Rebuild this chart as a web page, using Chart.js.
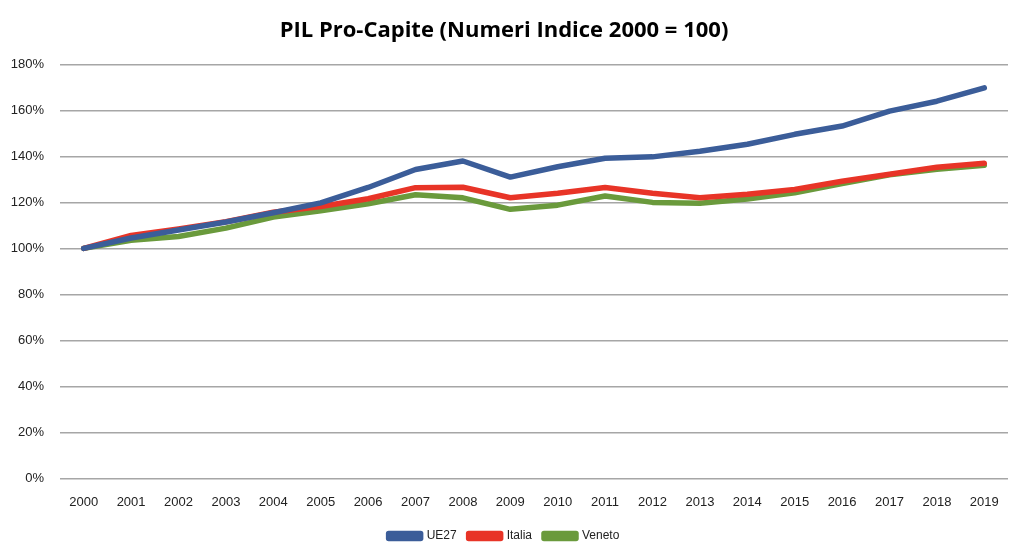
<!DOCTYPE html>
<html>
<head>
<meta charset="utf-8">
<script src="https://cdn.jsdelivr.net/npm/chart.js@4"></script>
<style>
  html, body { margin: 0; padding: 0; background: #fff; }
  #wrap { width: 1024px; height: 552px; }
</style>
</head>
<body>
<div id="wrap"><canvas id="pil" width="1024" height="552"></canvas></div>
<script>
// anni
const anni = ["2000", "2001", "2002", "2003", "2004", "2005", "2006", "2007", "2008", "2009",
              "2010", "2011", "2012", "2013", "2014", "2015", "2016", "2017", "2018", "2019"];

// numeri indice (2000 = 100)
const ue27   = [100, 104.5, 108, 111.5, 115.5, 119.8, 126.5, 134.3, 138, 131,
                135.5, 139.2, 139.8, 142.2, 145.3, 149.6, 153.2, 159.7, 164, 169.8];
const italia = [100, 105.6, 108.5, 111.6, 115.7, 118.2, 121.6, 126.4, 126.6, 122,
                124, 126.5, 124, 122, 123.5, 125.6, 129.2, 132.2, 135.3, 137];
const veneto = [100, 103.5, 105.2, 108.8, 113.6, 116.4, 119.4, 123.3, 122, 117,
                118.8, 122.8, 120, 119.6, 121.5, 124.2, 128.2, 132, 134.4, 136.2];

// tick asse y
const tickY = [0, 20, 40, 60, 80, 100, 120, 140, 160, 180];

const ctx = document.getElementById("pil").getContext("2d");

new Chart(ctx, {
    type: "line",
    data: {
        labels: anni,
        datasets: [
            { label: "UE27", data: ue27, borderColor: "#3b5d99", backgroundColor: "#3b5d99" },
            { label: "Italia", data: italia, borderColor: "#e83427", backgroundColor: "#e83427" },
            { label: "Veneto", data: veneto, borderColor: "#6a9a3c", backgroundColor: "#6a9a3c" },
        ],
    },
    options: {
        responsive: false,
        animation: false,
        devicePixelRatio: 1,
        elements: {
            line: { borderWidth: 5.5, tension: 0, borderCapStyle: "round", borderJoinStyle: "round" },
            point: { radius: 0 },
        },
        layout: { padding: { left: 0, right: 16, top: 4, bottom: 0 } },
        plugins: {
            title: {
                display: true,
                text: "PIL Pro-Capite (Numeri Indice 2000 = 100)",
                color: "#000",
                font: { family: "'Open Sans', 'Liberation Sans', sans-serif", size: 22, weight: "bold" },
                padding: { top: 14, bottom: 20 },
            },
            legend: {
                position: "bottom",
                labels: {
                    color: "#222",
                    boxWidth: 32,
                    boxHeight: 5,
                    padding: 12,
                    font: { family: "'Liberation Sans Narrow', 'Liberation Sans', sans-serif", size: 12 },
                },
            },
            tooltip: { enabled: false },
        },
        scales: {
            x: {
                offset: true,
                grid: { display: false },
                border: { display: false },
                ticks: {
                    color: "#222",
                    maxRotation: 0,
                    padding: 8,
                    font: { family: "'Liberation Sans Narrow', 'Liberation Sans', sans-serif", size: 13 },
                },
            },
            y: {
                min: 0,
                max: 180,
                afterFit: (scale) => { scale.width = 60; },
                afterBuildTicks: (scale) => { scale.ticks = tickY.map(v => ({ value: v })); },
                grid: { color: "#a6a6a6", lineWidth: 1.5, drawTicks: false },
                border: { display: false },
                ticks: {
                    color: "#222",
                    padding: 16,
                    callback: (v) => v + "%",
                    font: { family: "'Liberation Sans Narrow', 'Liberation Sans', sans-serif", size: 13 },
                },
            },
        },
    },
});
</script>
</body>
</html>
